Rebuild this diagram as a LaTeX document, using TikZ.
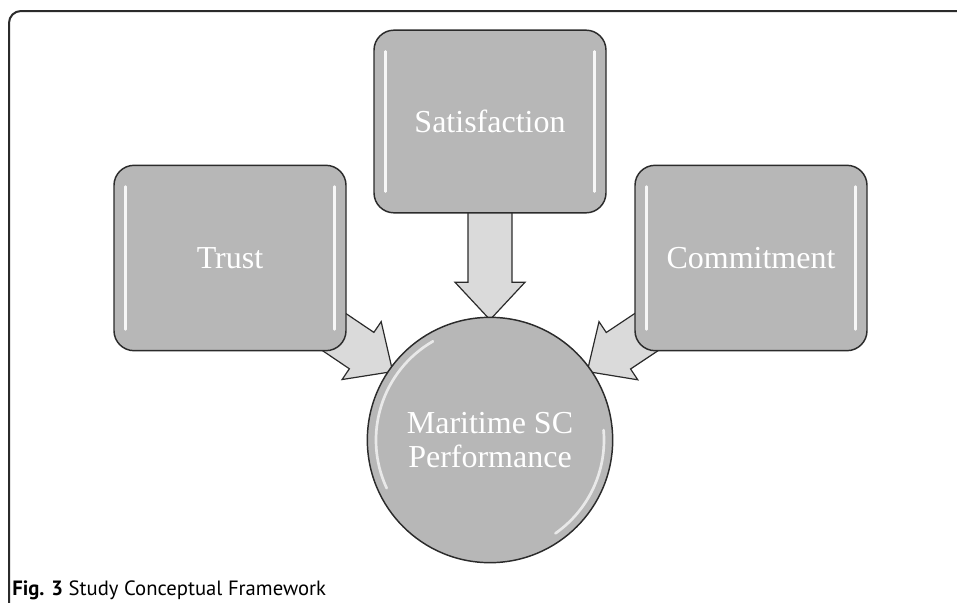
\documentclass[tikz,border=0pt]{standalone}
\usepackage{fontspec}
\setmainfont{Liberation Serif}
\newfontfamily\capfont{PT Sans}
\usetikzlibrary{shapes.arrows,calc}

\definecolor{boxgray}{HTML}{B7B7B7}
\definecolor{arrowgray}{HTML}{DADADA}
\definecolor{edgegray}{HTML}{2B2B2B}

\tikzset{
  factor/.style={draw=edgegray, line width=1.1pt, fill=boxgray, rounded corners=15pt,
    minimum width=174pt, minimum height=139pt, inner sep=0pt,
    text=white, font=\fontsize{24}{26}\selectfont},
  outcome/.style={draw=edgegray, line width=1.1pt, fill=boxgray, circle, minimum size=184pt,
    inner sep=0pt, align=center, text=white, font=\fontsize{24}{26}\selectfont},
  fatarrow/.style={single arrow, draw=edgegray, line width=0.9pt, fill=arrowgray,
    inner xsep=0pt, inner ysep=16pt, minimum width=0pt,
    single arrow head extend=9.75pt, single arrow tip angle=86},
  shine/.style={white, line width=2pt, line cap=round, opacity=0.9}
}

% block arrow from #1 to #2
\newcommand\blockarrow[2]{%
  \path let \p1=($(#2)-(#1)$), \n1={atan2(\y1,\x1)}, \n2={veclen(\x1,\y1)} in
    node[fatarrow, rotate=\n1, minimum height=\n2] at ($(#1)!0.5!(#2)$) {};}

\begin{document}
\begin{tikzpicture}[x=0.75pt,y=-0.75pt]
\useasboundingbox (0,0) rectangle (957,603);

% frame
\draw[edgegray, line width=1.5pt] (9,603) -- (9,23) arc (180:270:12) -- (957,11);

\coordinate (Tc) at (230,258);
\coordinate (Sc) at (490,121.5);
\coordinate (Cc) at (751,258);
\coordinate (Pc) at (490,440);

% arrows first, the boxes hide their tails
\coordinate (a1) at ($(Tc)+(70,51)$);
\coordinate (b1) at ($(Pc)+(-107,-75)$);
\coordinate (a2) at ($(Sc)+(0,78)$);
\coordinate (b2) at ($(Pc)+(0,-132)$);
\coordinate (a3) at ($(Cc)+(-70,51)$);
\coordinate (b3) at ($(Pc)+(107,-75)$);
\blockarrow{a1}{b1}
\blockarrow{a2}{b2}
\blockarrow{a3}{b3}

\node[factor] (trust) at (Tc) {Trust};
\node[factor, minimum height=137pt] (sat) at (Sc) {Satisfaction};
\node[factor] (comm) at (Cc) {Commitment};
\node[outcome] (perf) at (Pc) {Maritime SC\\Performance};

% glossy highlights
\foreach \b in {trust,sat,comm}{
  \draw[shine] ($(\b.north west)+(12,22)$) -- ($(\b.south west)+(12,-22)$);
  \draw[shine] ($(\b.north east)+(-12,22)$) -- ($(\b.south east)+(-12,-22)$);
}
\draw[shine, opacity=0.7] (perf.center) ++(-205:114) arc (-205:-120:114);
\draw[shine, opacity=0.7] (perf.center) ++(55:114) arc (55:-5:114);

% caption
\node[anchor=base west, inner sep=0pt, font=\capfont\fontsize{15.5}{17}\selectfont] (cap) at (12,595)
  {\textbf{Fig. 3} Study Conceptual Framework};
\end{tikzpicture}
\end{document}
